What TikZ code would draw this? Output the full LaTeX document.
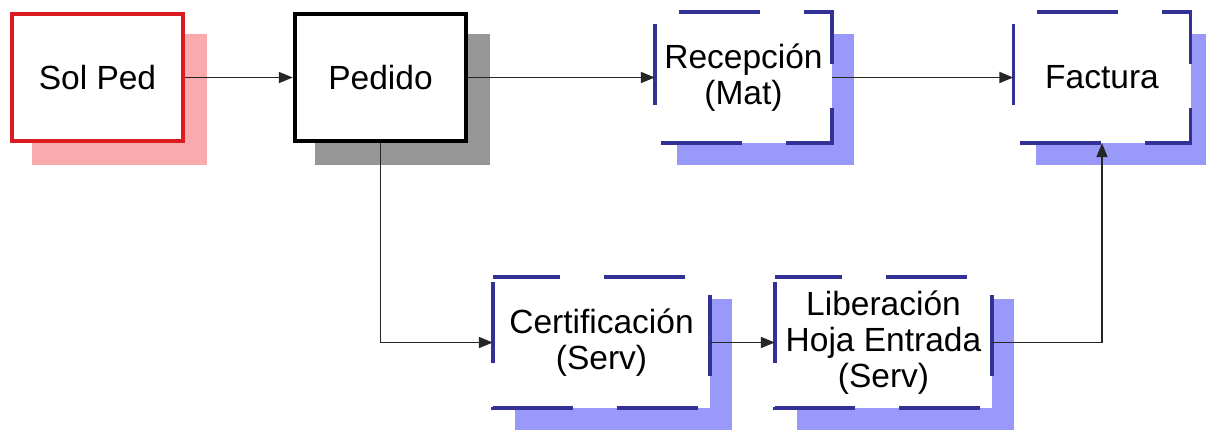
\documentclass[tikz,border=0pt]{standalone}
\usepackage{fontspec}
\setmainfont{Liberation Sans}
\usetikzlibrary{arrows.meta, shadows}
\definecolor{pedred}{RGB}{218,28,34}
\definecolor{pedpink}{RGB}{250,170,172}
\definecolor{pedgray}{RGB}{150,150,150}
\definecolor{docblue}{RGB}{50,50,150}
\definecolor{docshade}{RGB}{153,153,250}

\begin{document}
\begin{tikzpicture}[x=1pt, y=-1pt,
  box/.style={rectangle, fill=white, align=center, inner sep=0pt,
    font=\fontsize{33.5}{36}\selectfont},
  solidbox/.style={box, draw=#1, line width=4.5pt,
    minimum width=171pt, minimum height=127pt},
  redbox/.style={solidbox=pedred,
    drop shadow={shadow xshift=22pt, shadow yshift=-22pt, opacity=1,
      fill=pedpink, draw=pedpink}},
  blackbox/.style={solidbox=black,
    drop shadow={shadow xshift=22pt, shadow yshift=-22pt, opacity=1,
      fill=pedgray, draw=pedgray}},
  docbox/.style={box, minimum height=131pt,
    drop shadow={shadow xshift=22pt, shadow yshift=-22pt, opacity=1,
      fill=docshade}},
  docline/.style={draw=docblue, line width=3.5pt,
    dash pattern=on 81pt off 44pt},
  flow/.style={line width=1.9pt, draw=black!85,
    -{Triangle[length=14pt, width=11pt]}}]
  \useasboundingbox (0,0) rectangle (1206,432);

  \node[redbox]   (solped)  at (97.5,77.5)  {Sol Ped};
  \node[blackbox] (pedido)  at (380.5,77.5) {Pedido};
  \node[docbox, minimum width=177pt] (recep)   at (743.5,77.5) {Recepción\\(Mat)};
  \node[docbox, minimum width=177pt] (factura) at (1102,77.5)  {Factura};
  \node[docbox, minimum width=217pt] (certif)  at (601.5,342.5) {Certificación\\(Serv)};
  \node[docbox, minimum width=217pt] (liber)   at (883.5,342.5) {Liberación\\Hoja Entrada\\(Serv)};

  % bordes discontinuos, en sentido horario desde la esquina superior izquierda
  \draw[docline, dash phase=101pt] (recep.north west) -- (recep.north east)
    -- (recep.south east) -- (recep.south west) -- cycle;
  \draw[docline, dash phase=101pt] (factura.north west) -- (factura.north east)
    -- (factura.south east) -- (factura.south west) -- cycle;
  \draw[docline, dash phase=14pt] (certif.north west) -- (certif.north east)
    -- (certif.south east) -- (certif.south west) -- cycle;
  \draw[docline, dash phase=14pt] (liber.north west) -- (liber.north east)
    -- (liber.south east) -- (liber.south west) -- cycle;

  \draw[flow] (solped) -- (pedido);
  \draw[flow] (pedido) -- (recep);
  \draw[flow] (recep) -- (factura);
  \draw[flow] (pedido.south) |- (certif.west);
  \draw[flow] (certif) -- (liber);
  \draw[flow] (liber.east) -| (factura.south);
\end{tikzpicture}
\end{document}
